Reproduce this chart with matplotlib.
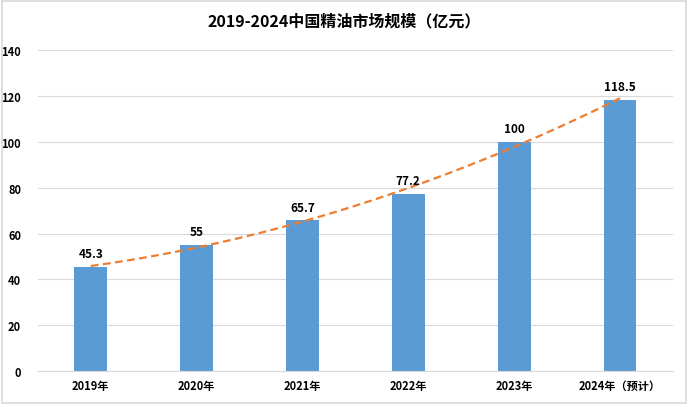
import matplotlib
matplotlib.use("Agg")
import matplotlib.pyplot as plt
import numpy as np
from matplotlib.patches import Rectangle

plt.rcParams['font.family'] = ['Noto Sans CJK SC', 'DejaVu Sans']

categories = ["2019年", "2020年", "2021年", "2022年", "2023年", "2024年（预计）"]
values = [45.3, 55, 65.7, 77.2, 100, 118.5]
value_labels = ["45.3", "55", "65.7", "77.2", "100", "118.5"]
yticks = [0, 20, 40, 60, 80, 100, 120, 140]
title = "2019-2024中国精油市场规模（亿元）"

fig = plt.figure(figsize=(6.88, 4.06), dpi=100)
ax = fig.add_axes([0.055, 0.0837, 0.923, 0.79])

x = np.arange(len(categories))
ax.bar(x, values, width=0.31, color="#5B9BD5", zorder=2)

# polynomial trendline (order 2), as in the spreadsheet chart
coef = np.polyfit(x, values, 2)
xs = np.linspace(x[0], x[-1], 200)
ax.plot(xs, np.polyval(coef, xs), linestyle=(0, (3.5, 2)), color="#ED7D31", linewidth=1.6, zorder=3)

for xi, v, lab in zip(x, values, value_labels):
    ax.annotate(lab, (xi, v), xytext=(0, 5), textcoords="offset points",
                ha="center", va="bottom", fontsize=8.5, fontweight="semibold", color="#000000")

ax.set_xlim(-0.5, len(categories) - 0.5)
ax.set_ylim(0, 140)
ax.set_yticks(yticks)
ax.set_yticklabels([str(t) for t in yticks], fontsize=8, fontweight="bold")
ax.set_xticks(x)
ax.set_xticklabels(categories, fontsize=8, fontweight="bold")
ax.tick_params(axis="both", length=0, pad=6)
ax.tick_params(axis="y", pad=12)
ax.grid(axis="y", color="#D9D9D9", linewidth=0.8, zorder=0)
for s in ["top", "right", "left"]:
    ax.spines[s].set_visible(False)
ax.spines["bottom"].set_color("#D9D9D9")

fig.text(0.5, 0.947, title, ha="center", va="center", fontsize=11.5, fontweight="bold")

fig.patches.append(Rectangle((0.003, 0.004), 0.994, 0.992, transform=fig.transFigure,
                             fill=False, edgecolor="#D9D9D9", linewidth=1.2))

fig.savefig("out.png", dpi=100)
